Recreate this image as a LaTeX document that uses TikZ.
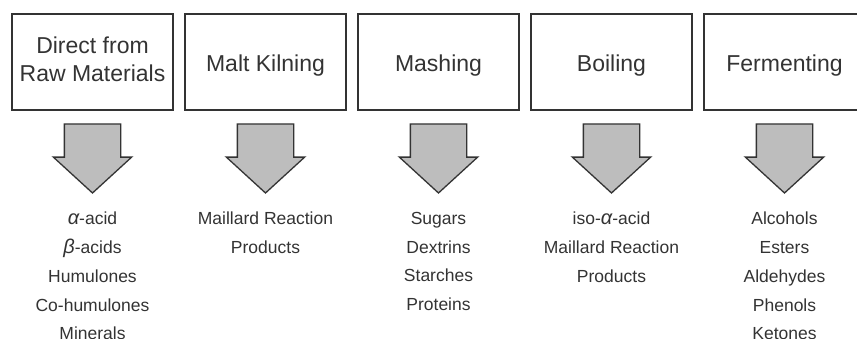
\documentclass[tikz,border=0pt]{standalone}
\usepackage{fontspec}
\setmainfont{Liberation Sans}
\usepackage{tikz}
\usetikzlibrary{positioning,shapes.arrows}
\definecolor{inkgray}{HTML}{333333}
\definecolor{arrowgray}{HTML}{BDBDBD}

\begin{document}
\begin{tikzpicture}[x=1pt, y=-1pt, outer sep=0pt,
  stage/.style={draw=inkgray, line width=1.4pt, minimum width=161pt, minimum height=96pt,
    inner sep=0pt, align=center, text=inkgray, font=\fontsize{23}{28.4}\selectfont},
  oneline/.style={stage, text height=19.4pt, text depth=0pt},
  flow/.style={single arrow, draw=inkgray, fill=arrowgray, line width=1.3pt, rotate=-90,
    inner xsep=0pt, inner ysep=27.5pt, minimum height=69pt, single arrow head extend=11pt,
    single arrow tip angle=95},
  items/.style={inner sep=0pt, align=center, text=inkgray, font=\fontsize{17.5}{28.8}\selectfont}]
  \useasboundingbox (0,0) rectangle (857,339);
  \clip (0,0) rectangle (857,339);

  % Stages
  \node[stage, text depth=5.8pt] (raw) at (92.5,62) {Direct from\\Raw Materials};
  \node[oneline, right=12pt of raw] (kiln) {Malt Kilning};
  \node[oneline, right=12pt of kiln] (mash) {Mashing};
  \node[oneline, right=12pt of mash] (boil) {Boiling};
  \node[oneline, right=12pt of boil] (ferm) {Fermenting};

  % Block arrows
  \node[flow, below=14pt of raw, anchor=tail] (rawarr) {};
  \node[flow, below=14pt of kiln, anchor=tail] (kilnarr) {};
  \node[flow, below=14pt of mash, anchor=tail] (masharr) {};
  \node[flow, below=14pt of boil, anchor=tail] (boilarr) {};
  \node[flow, below=14pt of ferm, anchor=tail] (fermarr) {};

  % Compounds
  \node[items, below=19pt of rawarr.tip] (rawlist)
    {{\itshape\fontsize{20}{20}\selectfont α}-acid\\{\itshape\fontsize{20}{20}\selectfont β}-acids\\Humulones\\Co-humulones\\Minerals};
  \node[items, below=19pt of kilnarr.tip] (kilnlist) {Maillard Reaction\\Products};
  \node[items, below=19pt of masharr.tip] (mashlist) {Sugars\\Dextrins\\Starches\\Proteins};
  \node[items, below=19pt of boilarr.tip] (boillist)
    {iso-{\itshape\fontsize{20}{20}\selectfont α}-acid\\Maillard Reaction\\Products};
  \node[items, below=19pt of fermarr.tip] (fermlist) {Alcohols\\Esters\\Aldehydes\\Phenols\\Ketones};
\end{tikzpicture}
\end{document}
